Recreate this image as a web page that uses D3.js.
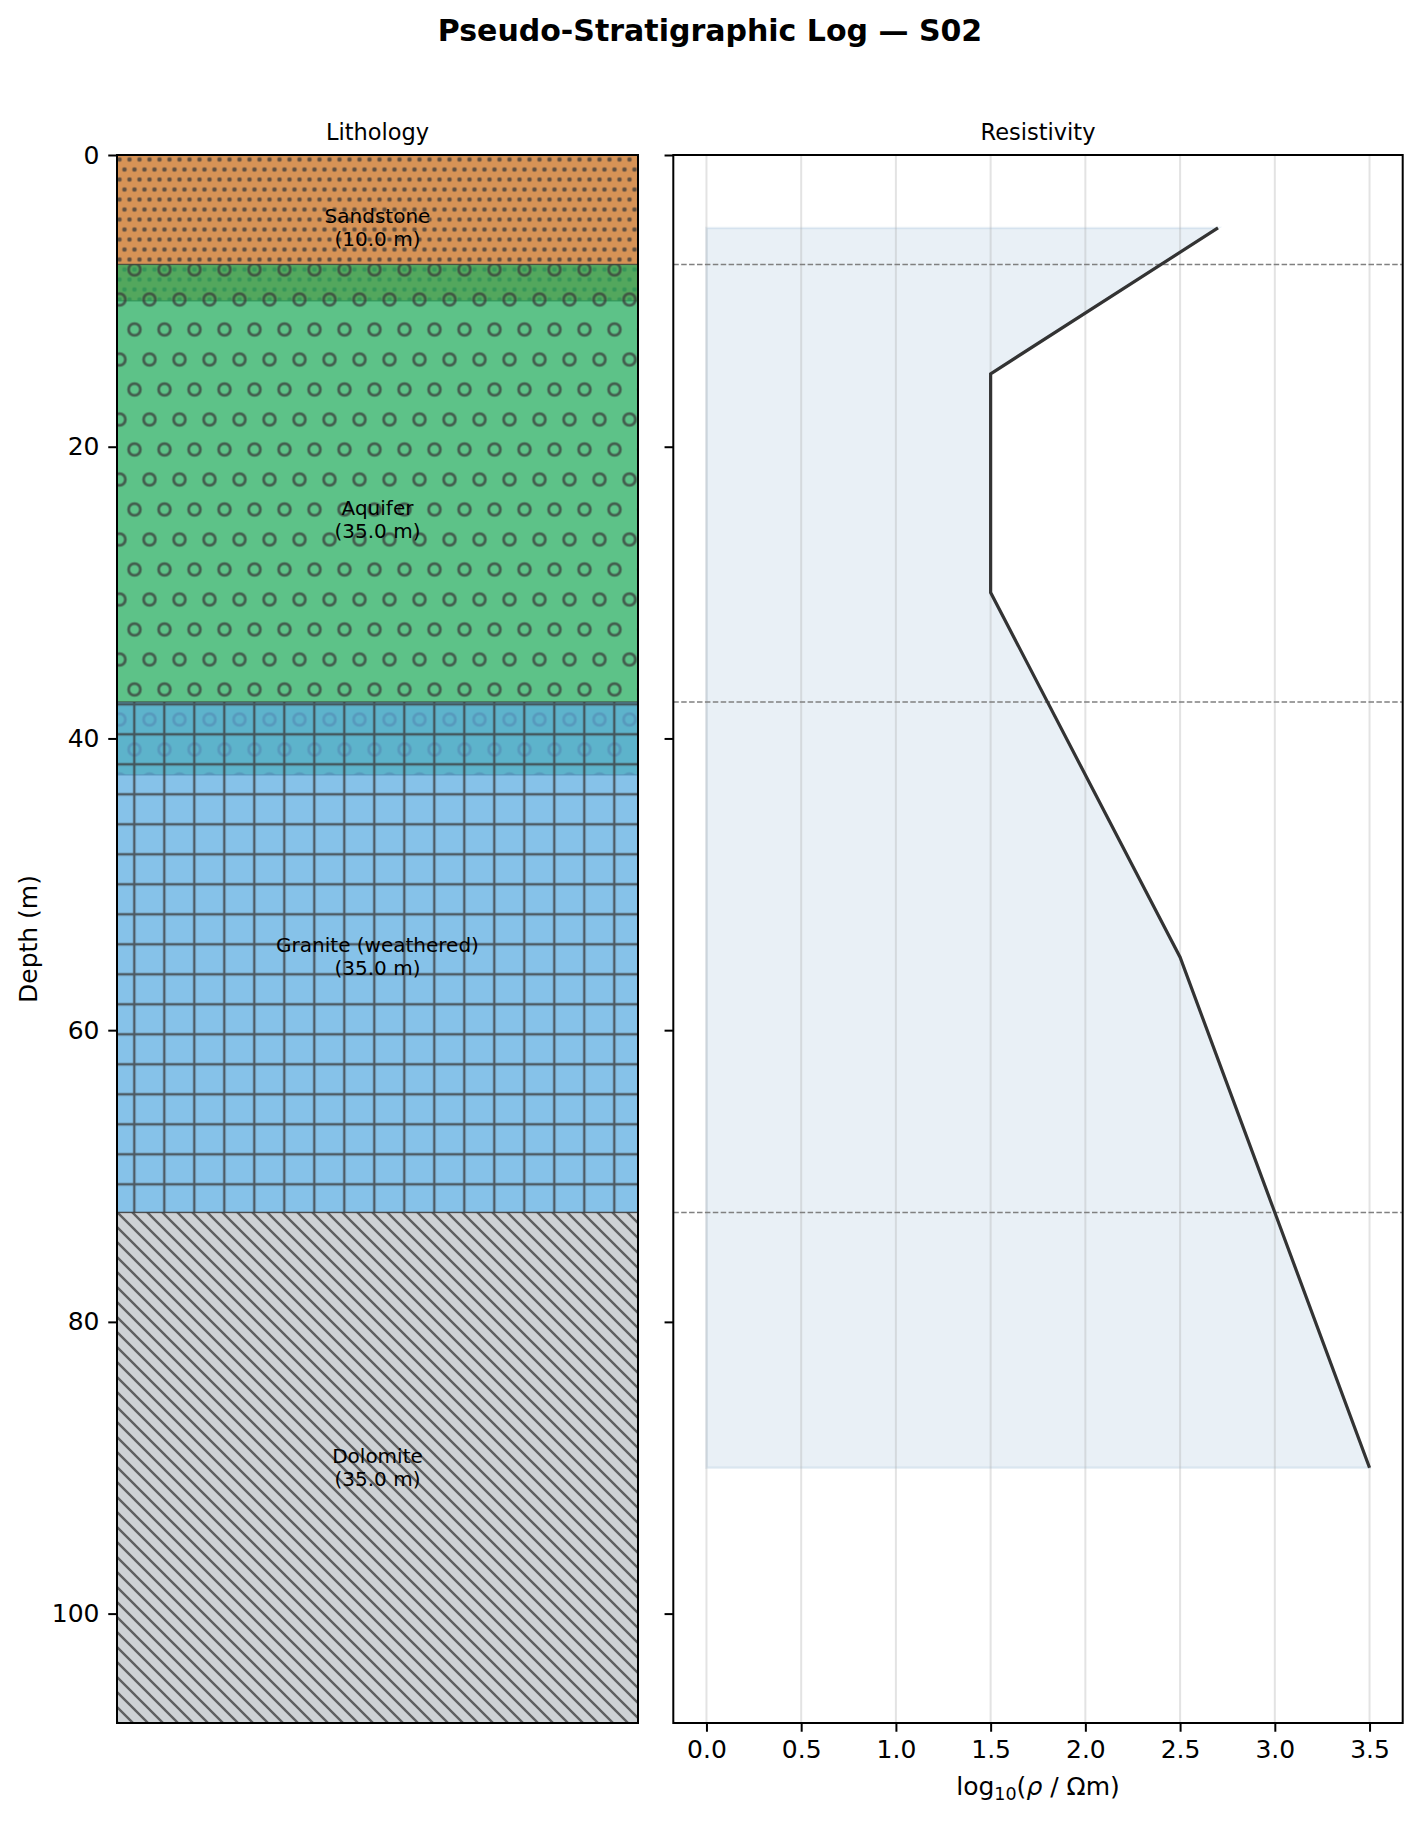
<!DOCTYPE html>
<html>
<head>
<meta charset="utf-8">
<script src="https://cdn.jsdelivr.net/npm/d3@7"></script>
<style>
  html, body { margin: 0; padding: 0; background: #fff; }
  svg text { font-family: 'DejaVu Sans', sans-serif; }
</style>
</head>
<body>
<div class="canvas"></div>
<script>
// layer data
const layerNames = ['Sandstone', 'Aquifer', 'Granite (weathered)', 'Dolomite']
const layerTops = [0, 7.5, 37.5, 72.5]
const layerThickness = [10, 35, 35, 35]

// resistivity profile
const resDepth = [5, 15, 30, 55, 90]
const resLog10 = [2.7, 1.5, 1.5, 2.5, 3.5]

// ticks / limits
const depthTicks = [0, 20, 40, 60, 80, 100]
const resTicks = [0, 0.5, 1, 1.5, 2, 2.5, 3, 3.5]
const depthMax = 107.5
const resDomain = [-0.175, 3.675]

// styles (kept apart from the data)
const layerFill = ['#ca6f1e', '#27ae60', '#5dade2', '#bdc3c7']
const layerHatch = ['dots', 'rings', 'grid', 'diag']
const hatchColor = '#3a3a3a'
const layerAlpha = 0.75

const dims = { width: 1420, height: 1821 }
const plot = { top: 155, bottom: 1723 }
const litho = { left: 117, right: 638 }
const res = { left: 673.3, right: 1402.7 }

const svg = d3
  .select('.canvas')
  .append('svg')
  .attr('width', dims.width)
  .attr('height', dims.height)

svg.append('rect').attr('width', dims.width).attr('height', dims.height).attr('fill', '#fff')

const y = d3.scaleLinear().domain([0, depthMax]).range([plot.top, plot.bottom])
const xl = d3.scaleLinear().domain([0, 1]).range([litho.left, litho.right])
const xr = d3.scaleLinear().domain(resDomain).range([res.left, res.right])

// hatch patterns, anchored to the page like matplotlib's device-space hatches
const defs = svg.append('defs')

const dots = defs.append('pattern').attr('id', 'dots')
  .attr('patternUnits', 'userSpaceOnUse').attr('width', 10).attr('height', 20)
  .attr('x', -0.5).attr('y', -0.5)
;[[0, 0], [10, 0], [0, 20], [10, 20], [5, 10]].forEach(([cx, cy]) => {
  dots.append('circle').attr('cx', cx).attr('cy', cy).attr('r', 2.3).attr('fill', hatchColor)
})

const rings = defs.append('pattern').attr('id', 'rings')
  .attr('patternUnits', 'userSpaceOnUse').attr('width', 30).attr('height', 60)
  .attr('x', -0.5).attr('y', -0.5)
;[[0, 0], [30, 0], [0, 60], [30, 60], [15, 30]].forEach(([cx, cy]) => {
  rings.append('circle').attr('cx', cx).attr('cy', cy).attr('r', 5.9)
    .attr('fill', 'none').attr('stroke', hatchColor).attr('stroke-width', 2.8)
})

const grid = defs.append('pattern').attr('id', 'grid')
  .attr('patternUnits', 'userSpaceOnUse').attr('width', 30).attr('height', 30)
  .attr('x', -0.7).attr('y', -0.7)
grid.append('path').attr('d', 'M15,0V30M0,15H30')
  .attr('stroke', hatchColor).attr('stroke-width', 2.4).attr('fill', 'none')

const diag = defs.append('pattern').attr('id', 'diag')
  .attr('patternUnits', 'userSpaceOnUse').attr('width', 15).attr('height', 15)
diag.append('path').attr('d', 'M-5,-5L20,20M-5,10L5,20M10,-5L20,5')
  .attr('stroke', hatchColor).attr('stroke-width', 2.4).attr('fill', 'none')

// ---------- lithology column ----------
const lithoG = svg.append('g')

layerNames.forEach((name, i) => {
  const y0 = y(layerTops[i])
  const y1 = y(layerTops[i] + layerThickness[i])
  const g = lithoG.append('g')
  // face, hatch, edge: same order matplotlib draws a patch
  g.append('rect')
    .attr('x', xl(0)).attr('y', y0).attr('width', xl(1) - xl(0)).attr('height', y1 - y0)
    .attr('fill', layerFill[i]).attr('fill-opacity', layerAlpha)
  g.append('rect')
    .attr('x', xl(0)).attr('y', y0).attr('width', xl(1) - xl(0)).attr('height', y1 - y0)
    .attr('fill', `url(#${layerHatch[i]})`).attr('opacity', layerAlpha)
  g.append('rect')
    .attr('x', xl(0)).attr('y', y0).attr('width', xl(1) - xl(0)).attr('height', y1 - y0)
    .attr('fill', 'none').attr('stroke', hatchColor).attr('stroke-width', 1.3)
    .attr('stroke-opacity', layerAlpha)
})

// layer labels
layerNames.forEach((name, i) => {
  const cy = y(layerTops[i] + layerThickness[i] / 2)
  const t = lithoG.append('text')
    .attr('x', xl(0.5)).attr('y', cy)
    .attr('text-anchor', 'middle').attr('font-size', 20).attr('fill', '#000')
  t.append('tspan').attr('x', xl(0.5)).attr('y', cy - 4.8).text(name)
  t.append('tspan').attr('x', xl(0.5)).attr('y', cy + 18)
    .text(`(${layerThickness[i].toFixed(1)} m)`)
})

// ---------- resistivity panel ----------
const resG = svg.append('g')

const area = d3.area()
  .y((d, i) => y(resDepth[i]))
  .x0(() => xr(0))
  .x1((d) => xr(d))

resG.append('path')
  .datum(resLog10)
  .attr('d', area)
  .attr('fill', '#4682b4').attr('fill-opacity', 0.12)
  .attr('stroke', '#4682b4').attr('stroke-opacity', 0.12).attr('stroke-width', 2.5)

// vertical grid
resG.selectAll('line.grid')
  .data(resTicks)
  .enter()
  .append('line')
  .attr('class', 'grid')
  .attr('x1', (d) => xr(d)).attr('x2', (d) => xr(d))
  .attr('y1', plot.top).attr('y2', plot.bottom)
  .attr('stroke', '#b0b0b0').attr('stroke-opacity', 0.35).attr('stroke-width', 2)

// layer boundaries
resG.selectAll('line.bound')
  .data(layerTops.slice(1))
  .enter()
  .append('line')
  .attr('class', 'bound')
  .attr('x1', res.left).attr('x2', res.right)
  .attr('y1', (d) => y(d)).attr('y2', (d) => y(d))
  .attr('stroke', '#808080').attr('stroke-width', 1.5)
  .attr('stroke-dasharray', '5.5,2.4')

const line = d3.line()
  .x((d) => xr(d))
  .y((d, i) => y(resDepth[i]))

resG.append('path')
  .datum(resLog10)
  .attr('d', line)
  .attr('fill', 'none').attr('stroke', '#333').attr('stroke-width', 3.2)
  .attr('stroke-linejoin', 'miter')

// ---------- axes ----------
const styleAxis = (g) => {
  g.select('.domain').remove()
  g.attr('font-family', 'DejaVu Sans').attr('font-size', 25)
  g.selectAll('.tick line').attr('stroke', '#000').attr('stroke-width', 2)
  g.selectAll('.tick text').attr('fill', '#000')
}

svg.append('g')
  .attr('transform', `translate(${litho.left},0)`)
  .call(d3.axisLeft(y).tickValues(depthTicks).tickSize(8.75).tickPadding(8.75))
  .call(styleAxis)

svg.append('g')
  .attr('transform', `translate(${res.left},0)`)
  .call(d3.axisLeft(y).tickValues(depthTicks).tickSize(8.75).tickFormat(''))
  .call(styleAxis)

svg.append('g')
  .attr('transform', `translate(0,${plot.bottom})`)
  .call(d3.axisBottom(xr).tickValues(resTicks).tickSize(8.75).tickPadding(8.75)
    .tickFormat(d3.format('.1f')))
  .call(styleAxis)

// spines
;[litho, res].forEach((p) => {
  svg.append('rect')
    .attr('x', p.left).attr('y', plot.top)
    .attr('width', p.right - p.left).attr('height', plot.bottom - plot.top)
    .attr('fill', 'none').attr('stroke', '#000').attr('stroke-width', 2)
})

// ---------- texts ----------
svg.append('text')
  .attr('x', 710).attr('y', 41)
  .attr('text-anchor', 'middle').attr('font-size', 30).attr('font-weight', 'bold')
  .text('Pseudo-Stratigraphic Log — S02')

svg.append('text')
  .attr('x', (litho.left + litho.right) / 2).attr('y', 140)
  .attr('text-anchor', 'middle').attr('font-size', 22.5)
  .text('Lithology')

svg.append('text')
  .attr('x', (res.left + res.right) / 2).attr('y', 140)
  .attr('text-anchor', 'middle').attr('font-size', 22.5)
  .text('Resistivity')

svg.append('text')
  .attr('transform', `translate(36.5,${(plot.top + plot.bottom) / 2}) rotate(-90)`)
  .attr('text-anchor', 'middle').attr('font-size', 25)
  .text('Depth (m)')

const xlab = svg.append('text')
  .attr('x', (res.left + res.right) / 2).attr('y', 1795)
  .attr('text-anchor', 'middle').attr('font-size', 25)
xlab.append('tspan').text('log')
xlab.append('tspan').attr('font-size', 17.5).attr('dy', 5).text('10')
xlab.append('tspan').attr('dy', -5).text('(')
xlab.append('tspan').attr('font-style', 'italic').text('ρ')
xlab.append('tspan').text(' / Ωm)')
</script>
</body>
</html>
